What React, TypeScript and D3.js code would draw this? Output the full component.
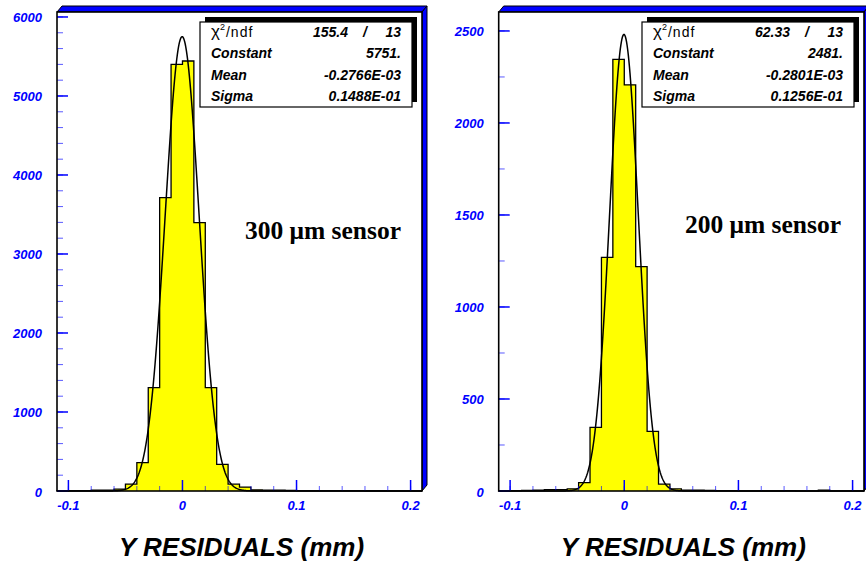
import React from "react";
import * as d3 from "d3";

// ---- data ----
const binLowEdges = [
  -0.11, -0.1, -0.09, -0.08, -0.07, -0.06, -0.05, -0.04, -0.03, -0.02, -0.01,
  0.0, 0.01, 0.02, 0.03, 0.04, 0.05, 0.06, 0.07, 0.08, 0.09, 0.1, 0.11, 0.12,
  0.13, 0.14, 0.15, 0.16, 0.17, 0.18, 0.19, 0.2,
];
const binWidth = 0.01;

const counts300 = [
  3, 5, 6, 10, 12, 25, 87, 358, 1308, 3713, 5401, 5443, 3397, 1308, 338, 87,
  50, 15, 12, 10, 8, 6, 5, 4, 4, 6, 5, 3, 3, 2, 2, 1,
];
const counts200 = [
  1, 2, 3, 4, 8, 8, 12, 45, 346, 1270, 2346, 2207, 1219, 324, 37, 12, 5, 4, 3,
  2, 2, 1, 1, 1, 1, 2, 1, 1, 4, 1, 1, 1,
];

const fit300 = { chi2: "155.4", ndf: "13", constant: 5751, mean: -0.2766e-3, sigma: 0.1488e-1 };
const fit200 = { chi2: "62.33", ndf: "13", constant: 2481, mean: -0.2801e-3, sigma: 0.1256e-1 };
const fitLabels300 = ["5751.", "-0.2766E-03", "0.1488E-01"];
const fitLabels200 = ["2481.", "-0.2801E-03", "0.1256E-01"];

const yTicks300 = [0, 1000, 2000, 3000, 4000, 5000, 6000];
const yMinor300 = d3.range(0, 6001, 200);
const yTicks200 = [0, 500, 1000, 1500, 2000, 2500];
const yMinor200 = d3.range(0, 2501, 250);
const xTicks = [-0.1, 0, 0.1, 0.2];
const xMinor = [-0.1, -0.08, -0.06, -0.04, -0.02, 0, 0.02, 0.04, 0.06, 0.08, 0.1, 0.12, 0.14, 0.16, 0.18, 0.2];

const BLUE = "#0000ff";
const TICKFONT = "'Liberation Sans', Arial, sans-serif";

type PanelProps = {
  x0: number;
  x1: number;
  yMax: number;
  counts: number[];
  fit: { chi2: string; ndf: string; constant: number; mean: number; sigma: number };
  fitLabels: string[];
  yTicks: number[];
  yMinor: number[];
  label: string;
  labelY: number;
  labelRight: number;
};

function Panel({ x0, x1, yMax, counts, fit, fitLabels, yTicks, yMinor, label, labelY, labelRight }: PanelProps) {
  const top = 12;
  const bottom = 491;
  const x = d3.scaleLinear().domain([-0.11, 0.21]).range([x0, x1]);
  const y = d3.scaleLinear().domain([0, yMax]).range([bottom, top]);

  // step outline
  const pts: [number, number][] = [];
  binLowEdges.forEach((lo, i) => {
    pts.push([lo, counts[i]]);
    pts.push([lo + binWidth, counts[i]]);
  });
  const area = d3
    .area<[number, number]>()
    .x((d) => x(d[0]))
    .y0(bottom)
    .y1((d) => y(d[1]));
  const line = d3
    .line<[number, number]>()
    .x((d) => x(d[0]))
    .y((d) => y(d[1]));
  const outline: [number, number][] = [[binLowEdges[0], 0], ...pts, [binLowEdges[binLowEdges.length - 1] + binWidth, 0]];

  const gx = d3.range(-0.11, 0.2101, 0.0005);
  const gauss = gx.map((v) => [v, fit.constant * Math.exp(-0.5 * ((v - fit.mean) / fit.sigma) ** 2)] as [number, number]);
  const gaussLine = d3
    .line<[number, number]>()
    .x((d) => x(d[0]))
    .y((d) => y(Math.min(d[1], yMax)))
    .curve(d3.curveLinear);

  const dx = 5;
  const dy = 6;

  // stats box
  const bx0 = x1 - 222;
  const bx1 = x1 - 10;
  const by0 = 22;
  const by1 = 107;
  const lblX = bx0 + 11;
  const valX = bx1 - 11;
  const rows = [37, 58, 80, 101];

  return (
    <g>
      {/* 3D blue border */}
      <polygon
        points={`${x0},${top} ${x0 + dx},${top - dy} ${x1 + dx},${top - dy} ${x1},${top}`}
        fill={BLUE}
        stroke="#000"
        strokeWidth={1}
      />
      <polygon
        points={`${x1},${top} ${x1 + dx},${top - dy} ${x1 + dx},${bottom - dy} ${x1},${bottom}`}
        fill={BLUE}
        stroke="#000"
        strokeWidth={1}
      />
      <rect x={x0} y={top} width={x1 - x0} height={bottom - top} fill="#fff" />

      {/* histogram */}
      <path d={area(pts) || ""} fill="#ffff00" />
      <path d={line(outline) || ""} fill="none" stroke="#000" strokeWidth={1.3} />

      {/* fit */}
      <path d={gaussLine(gauss) || ""} fill="none" stroke="#000" strokeWidth={1.5} />

      {/* ticks */}
      {yMinor.map((v) => (
        <line key={"ym" + v} x1={x0} x2={x0 + 6} y1={y(v)} y2={y(v)} stroke={BLUE} strokeOpacity={0.65} strokeWidth={1} />
      ))}
      {yTicks.map((v) => (
        <line key={"yM" + v} x1={x0} x2={x0 + 11} y1={y(v)} y2={y(v)} stroke={BLUE} strokeWidth={1.5} />
      ))}
      {xMinor.map((v) => (
        <line key={"xm" + v} x1={x(v)} x2={x(v)} y1={bottom} y2={bottom - 5} stroke={BLUE} strokeOpacity={0.65} strokeWidth={1} />
      ))}
      {xTicks.map((v) => (
        <line key={"xM" + v} x1={x(v)} x2={x(v)} y1={bottom} y2={bottom - 11} stroke={BLUE} strokeWidth={1.5} />
      ))}

      {/* frame */}
      <rect x={x0} y={top} width={x1 - x0} height={bottom - top} fill="none" stroke="#000" strokeWidth={1.6} />

      {/* tick labels */}
      {yTicks.map((v) => (
        <text
          key={"yl" + v}
          x={x0 - 15}
          y={v === 0 ? y(v) + 6 : y(v) + 5}
          textAnchor="end"
          fill={BLUE}
          fontFamily={TICKFONT}
          fontWeight="bold"
          fontStyle="italic"
          fontSize={13}
        >
          {v}
        </text>
      ))}
      {xTicks.map((v) => (
        <text
          key={"xl" + v}
          x={x(v)}
          y={510}
          textAnchor="middle"
          fill={BLUE}
          fontFamily={TICKFONT}
          fontWeight="bold"
          fontStyle="italic"
          fontSize={13}
        >
          {v === 0 ? "0" : String(v)}
        </text>
      ))}

      {/* axis title */}
      <text
        x={(x0 + x1) / 2 + 2}
        y={556}
        textAnchor="middle"
        fill="#000"
        fontFamily={TICKFONT}
        fontWeight="bold"
        fontStyle="italic"
        fontSize={26}
      >
        Y RESIDUALS (mm)
      </text>

      {/* sensor label */}
      <text
        x={labelRight}
        y={labelY}
        textAnchor="end"
        fill="#000"
        fontFamily="'Liberation Serif', 'Times New Roman', serif"
        fontWeight="bold"
        fontSize={25.5}
      >
        {label}
      </text>

      {/* stats box */}
      <rect x={bx0 + 5} y={by0 - 5} width={bx1 - bx0} height={by1 - by0} fill="#000" />
      <rect x={bx0} y={by0} width={bx1 - bx0} height={by1 - by0} fill="#fff" stroke="#000" strokeWidth={1.2} />
      <g fontFamily={TICKFONT} fontSize={14} fill="#000">
        <text x={lblX} y={rows[0]}>
          <tspan fontSize={17}>χ</tspan>
          <tspan fontSize={9} dy={-7}>2</tspan>
          <tspan dy={7} dx={1} letterSpacing={1}>/ndf</tspan>
        </text>
        <text x={valX - 53} y={rows[0]} textAnchor="end" fontWeight="bold" fontStyle="italic">
          {fit.chi2}
        </text>
        <text x={valX - 36} y={rows[0]} textAnchor="middle" fontWeight="bold" fontStyle="italic">
          /
        </text>
        <text x={valX} y={rows[0]} textAnchor="end" fontWeight="bold" fontStyle="italic">
          {fit.ndf}
        </text>
        {["Constant", "Mean", "Sigma"].map((t, i) => (
          <g key={t}>
            <text x={lblX} y={rows[i + 1]} fontWeight="bold" fontStyle="italic">
              {t}
            </text>
            <text x={valX} y={rows[i + 1]} textAnchor="end" fontWeight="bold" fontStyle="italic">
              {fitLabels[i]}
            </text>
          </g>
        ))}
      </g>
    </g>
  );
}

export default function App() {
  return (
    <svg
      width={866}
      height={566}
      style={{ position: "absolute", left: 0, top: 0, background: "#fff" }}
    >
      <rect x={0} y={0} width={866} height={566} fill="#fff" />
      <Panel
        x0={57}
        x1={422}
        yMax={6063}
        counts={counts300}
        fit={fit300}
        fitLabels={fitLabels300}
        yTicks={yTicks300}
        yMinor={yMinor300}
        label="300 μm sensor"
        labelY={239}
        labelRight={401}
      />
      <Panel
        x0={498.7}
        x1={864}
        yMax={2603}
        counts={counts200}
        fit={fit200}
        fitLabels={fitLabels200}
        yTicks={yTicks200}
        yMinor={yMinor200}
        label="200 μm sensor"
        labelY={233}
        labelRight={841}
      />
    </svg>
  );
}
